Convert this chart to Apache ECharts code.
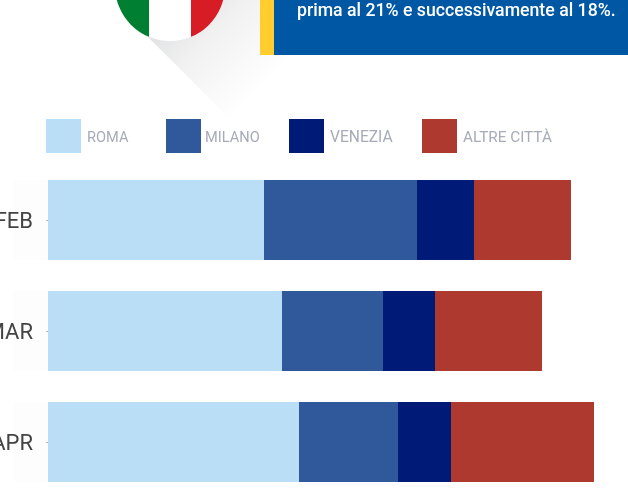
<!DOCTYPE html>
<html><head><meta charset="utf-8">
<style>html,body{margin:0;padding:0;background:#fff;overflow:hidden}#c{width:628px;height:503px}</style>
<script src="https://cdn.jsdelivr.net/npm/echarts@6/dist/echarts.min.js"></script>
</head><body><div id="c"></div>
<script>
const categories = ['FEB','MAR','APR'];
const roma = [216,234,251];
const milano = [153,101,99];
const venezia = [57,52,53];
const altreCitta = [97,107,143];
const seriesNames = ['ROMA','MILANO','VENEZIA','ALTRE CITTÀ'];
const seriesColors = ['#bbdef7','#30599b','#001a78','#ae3a2f'];
const seriesValues = [roma,milano,venezia,altreCitta];
const legendLeft = [46,166,289,422];
const legendFontSize = [14.6,14.6,15.6,15.3];
const bannerText = 'prima al 21% e successivamente al 18%.';

const chart = echarts.init(document.getElementById('c'),null,{renderer:'canvas'});
const fontFamily = 'Roboto, sans-serif';
chart.setOption({
  animation:false,
  backgroundColor:'#fff',
  grid:{left:48,right:0,top:164.5,height:333,outerBoundsMode:'none',containLabel:false},
  xAxis:{type:'value',min:0,max:580,show:false},
  yAxis:{type:'category',inverse:true,data:categories,
    axisLine:{show:false},
    axisTick:{show:true,length:2,alignWithLabel:true,lineStyle:{color:'#b5b5b5',width:1}},
    axisLabel:{margin:15,formatter:'{a|{value}}',
      rich:{a:{color:'#444',fontSize:22,fontFamily:fontFamily,letterSpacing:1.5,padding:[5,0,0,0]}}}},
  legend:seriesNames.map((n,i)=>({
    data:[n],left:legendLeft[i],top:119,itemWidth:35,itemHeight:34,icon:'rect',itemGap:0,padding:0,
    selectedMode:false,
    formatter:'{a|{name}}',
    textStyle:{padding:[0,0,0,i===1?-1:1],
      rich:{a:{color:'#a7abb8',fontSize:legendFontSize[i],fontFamily:fontFamily,padding:[5,0,0,0]}}}
  })),
  series:seriesNames.map((n,i)=>({
    name:n,type:'bar',stack:'t',barWidth:80,data:seriesValues[i],
    itemStyle:{color:seriesColors[i]},silent:true
  })),
  graphic:[
    {type:'polygon',silent:true,z:-1,
      shape:{points:[[147,36],[232,121],[330,55],[260,-20],[190,-20]]},
      style:{fill:new echarts.graphic.LinearGradient(95,95,175,175,[
        {offset:0,color:'#e2e3e4'},{offset:0.35,color:'#f1f1f2'},{offset:1,color:'#ffffff'}],true)}},
    {type:'circle',silent:true,z:2,shape:{cx:170,cy:-14,r:55},
      style:{fill:new echarts.graphic.LinearGradient(115,0,225,0,[
        {offset:0,color:'#007f33'},{offset:0.309,color:'#007f33'},
        {offset:0.309,color:'#ffffff'},{offset:0.691,color:'#ffffff'},
        {offset:0.691,color:'#d71c26'},{offset:1,color:'#d71c26'}],true)}},
    {type:'rect',silent:true,z:2,shape:{x:260,y:0,width:14,height:55},style:{fill:'#ffcd2e'}},
    {type:'rect',silent:true,z:2,shape:{x:274,y:0,width:354,height:55},style:{fill:'#0058a5'}},
    {type:'text',silent:true,z:3,x:297,y:12,
      style:{text:bannerText,fill:'#fff',font:'500 17.7px Roboto, sans-serif',verticalAlign:'middle'}},
    {type:'rect',silent:true,z:-1,shape:{x:14,y:180,width:34,height:80},style:{fill:'#fdfdfd'}},
    {type:'rect',silent:true,z:-1,shape:{x:14,y:291,width:34,height:80},style:{fill:'#fdfdfd'}},
    {type:'rect',silent:true,z:-1,shape:{x:14,y:402,width:34,height:80},style:{fill:'#fdfdfd'}}
  ]
});
</script></body></html>
